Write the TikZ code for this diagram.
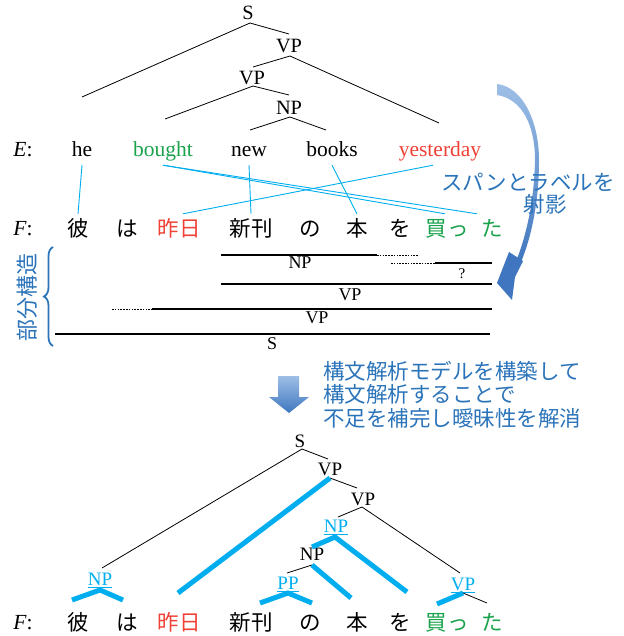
\documentclass[tikz,border=0pt]{standalone}
\usepackage{fontspec}
\setmainfont{Liberation Serif}
\newfontfamily\jp{Noto Sans CJK JP}
\usetikzlibrary{decorations.pathreplacing}
\definecolor{cy}{HTML}{00AEEF}
\definecolor{rd}{HTML}{EF4136}
\definecolor{gr}{HTML}{1AA24C}
\definecolor{bl}{HTML}{2B74BA}
\definecolor{arrL}{HTML}{9EBFE6}
\definecolor{arrD}{HTML}{3F76BF}
\begin{document}
\begin{tikzpicture}[x=1pt,y=-1pt,
  lab/.style={font=\fontsize{20.3}{21}\selectfont, inner sep=0pt, anchor=base},
  blab/.style={font=\fontsize{19}{20}\selectfont, inner sep=0pt, anchor=base},
  clab/.style={blab, text=cy},
  plab/.style={font=\fontsize{18}{20}\selectfont, inner sep=0pt, anchor=base},
  ew/.style={font=\fontsize{21.5}{24}\selectfont, inner sep=0pt, anchor=base, text height=15pt, text depth=8pt},
  fw/.style={font=\jp\fontsize{21.5}{24}\selectfont, inner sep=0pt, anchor=base, text height=22pt, text depth=3pt},
  btxt/.style={font=\jp\fontsize{21.5}{24}\selectfont, inner sep=0pt, text=bl, anchor=base},
  tl/.style={line width=0.8pt},
  al/.style={draw=cy, line width=0.9pt},
  tk/.style={draw=cy, line width=5pt},
  st/.style={line width=1.6pt},
  dt/.style={line width=1pt, dash pattern=on 1.6pt off 1.2pt},
  ul/.style={draw=cy, line width=0.9pt},
]
\useasboundingbox (0,0) rectangle (623,636);

% ---------- top tree ----------
\node[lab] (S1) at (248,20) {S};
\node[lab] (VPa) at (289,53) {VP};
\node[lab] (VPb) at (252,85) {VP};
\node[lab] (NPa) at (289,115) {NP};
\coordinate (S1d) at (250,23);
\coordinate (het) at (82,97);
\coordinate (VPau) at (289,34);
\coordinate (VPad) at (290,56);
\coordinate (VPbu) at (253,67);
\coordinate (yest) at (439,123);
\coordinate (VPbd) at (253,86);
\coordinate (bout) at (165,119);
\coordinate (NPau) at (289,95);
\coordinate (NPad) at (290,117);
\coordinate (newt) at (250,130);
\coordinate (boot) at (326,130);
\draw[tl] (S1d) -- (het);
\draw[tl] (S1d) -- (VPau);
\draw[tl] (VPad) -- (VPbu);
\draw[tl] (VPad) -- (yest);
\draw[tl] (VPbd) -- (bout);
\draw[tl] (VPbd) -- (NPau);
\draw[tl] (NPad) -- (newt);
\draw[tl] (NPad) -- (boot);

% ---------- E row ----------
\node[ew] (Elab) at (23,157) {\textit{E}:};
\node[ew] (he) at (82,157) {he};
\node[ew, text=gr] (bought) at (163,157) {bought};
\node[ew] (new) at (249,157) {new};
\node[ew] (books) at (332,157) {books};
\node[ew, text=rd] (yesterday) at (440,157) {yesterday};

% ---------- F row ----------
\node[ew] (Flab) at (23,235) {\textit{F}:};
\node[fw] (kare) at (78,236) {彼};
\node[fw] (ha) at (127,236) {は};
\node[fw, text=rd] (kino) at (179,236) {昨日};
\node[fw] (shin) at (251,236) {新刊};
\node[fw] (no) at (310,236) {の};
\node[fw] (hon) at (357,236) {本};
\node[fw] (wo) at (400,236) {を};
\node[fw, text=gr] (kat) at (447,236) {買っ};
\node[fw, text=gr] (ta) at (492,236) {た};

% alignments
\draw[al] (he.south) -- (kare.north);
\draw[al] (bought.south) -- ([xshift=-2pt]kat.north);
\draw[al] (bought.south) -- ([xshift=-15pt]ta.north);
\draw[al] (new.south) -- (shin.north);
\draw[al] (books.south) -- (hon.north);
\draw[al] ([xshift=-7pt]yesterday.south) -- ([xshift=4pt]kino.north);

% ---------- partial structures ----------
\draw[st] (221,255) -- (377,255);
\draw[dt] (377,255) -- (419,255);
\node[plab] (pNP) at (300,268) {NP};
\draw[dt] (391,263) -- (435,263);
\draw[st] (435,263) -- (492,263);
\node[font=\fontsize{15}{16}\selectfont, inner sep=0pt, anchor=base] (pQ) at (462,278) {?};
\draw[st] (221,284) -- (492,284);
\node[plab] (pVP1) at (350,300) {VP};
\draw[dt] (112,309) -- (152,309);
\draw[st] (152,309) -- (492,309);
\node[plab] (pVP2) at (317,323) {VP};
\draw[st] (55,334) -- (490,334);
\node[plab] (pS) at (272,349) {S};

% brace
\draw[bl, line width=1.8pt, decorate, decoration={brace, amplitude=9pt}] (53,346) -- (53,247);
\node[font=\jp\fontsize{22}{24}\selectfont, text=bl, rotate=90, inner sep=0pt] (bubun) at (27,297) {部分構造};

% ---------- curved arrow ----------
\shade[top color=arrL, bottom color=arrD]
  (497,84) .. controls (523,87) and (539,122) .. (539,160)
  .. controls (539,203) and (531,238) .. (521,262)
  -- (515,264) .. controls (526,237) and (534,203) .. (535,160)
  .. controls (535,125) and (522,99) .. (497,95) -- cycle;
\fill[arrD] (509,252) -- (497,283) -- (512,300) -- (515,277) -- (523,261) -- cycle;
\node[btxt] (span) at (528,191) {スパンとラベルを};
\node[btxt] (shaei) at (545,212) {射影};

% ---------- middle arrow ----------
\shade[top color=arrL, bottom color=arrD]
  (278,376) -- (299,376) -- (299,397) -- (309,397) -- (289,413) -- (269,397) -- (278,397) -- cycle;
\node[btxt, anchor=base west] (t1) at (323,379) {構文解析モデルを構築して};
\node[btxt, anchor=base west] (t2) at (323,402.5) {構文解析することで};
\node[btxt, anchor=base west] (t3) at (323,426) {不足を補完し曖昧性を解消};

% ---------- bottom tree ----------
\node[blab] (S2) at (300,447) {S};
\node[blab] (VPc) at (330,475) {VP};
\node[blab] (VPd) at (363,505) {VP};
\node[clab] (NPc) at (336,532) {NP};
\node[blab] (NPd) at (312,560) {NP};
\node[clab] (PPa) at (288,589) {PP};
\node[clab] (NPe) at (100,585) {NP};
\node[clab] (VPe) at (463,590) {VP};
\foreach \n in {NPc,PPa,NPe,VPe}
  \draw[ul] ([yshift=-2pt]\n.base west) -- ([yshift=-2pt]\n.base east);

\node[ew] (Flab2) at (23,629) {\textit{F}:};
\node[fw] (kare2) at (78,630) {彼};
\node[fw] (ha2) at (127,630) {は};
\node[fw, text=rd] (kino2) at (179,630) {昨日};
\node[fw] (shin2) at (251,630) {新刊};
\node[fw] (no2) at (310,630) {の};
\node[fw] (hon2) at (357,630) {本};
\node[fw] (wo2) at (400,630) {を};
\node[fw, text=gr] (kat2) at (447,630) {買っ};
\node[fw, text=gr] (ta2) at (492,630) {た};

\coordinate (S2d) at (302,449);
\coordinate (NPeu) at (102,568);
\coordinate (VPcu) at (328,459);
\coordinate (VPcd) at (330,478);
\coordinate (VPdu) at (357,488);
\coordinate (VPdd) at (362,507);
\coordinate (NPcu) at (338,517);
\coordinate (VPeu) at (460,573);
\coordinate (NPdd) at (312,565);
\coordinate (PPau) at (287,573);
\coordinate (VPed) at (463,593);
\coordinate (tat) at (487,603);
\draw[tl] (S2d) -- (NPeu);
\draw[tl] (S2d) -- (VPcu);
\draw[tl] (VPcd) -- (VPdu);
\draw[tl] (VPdd) -- (NPcu);
\draw[tl] (VPdd) -- (VPeu);
\draw[tl] (NPdd) -- (PPau);
\draw[tl] (VPed) -- (tat);

% thick projected structure
\coordinate (kinot) at (178,593);
\coordinate (NPcd) at (335,537);
\coordinate (NPdu) at (312,547);
\coordinate (wot) at (407,592);
\coordinate (hont) at (351,598);
\coordinate (PPad) at (288,593);
\coordinate (shint) at (260,603);
\coordinate (not) at (312,603);
\coordinate (NPed) at (100,590);
\coordinate (karet) at (72,600);
\coordinate (hat) at (123,600);
\coordinate (katt) at (437,604);
\draw[tk] (VPcd) -- (kinot);
\draw[tk] (NPdu) -- (NPcd) -- (wot);
\draw[tk] (NPdd) -- (hont);
\draw[tk] (shint) -- (PPad) -- (not);
\draw[tk] (karet) -- (NPed) -- (hat);
\draw[tk] (VPed) -- (katt);
\end{tikzpicture}
\end{document}
